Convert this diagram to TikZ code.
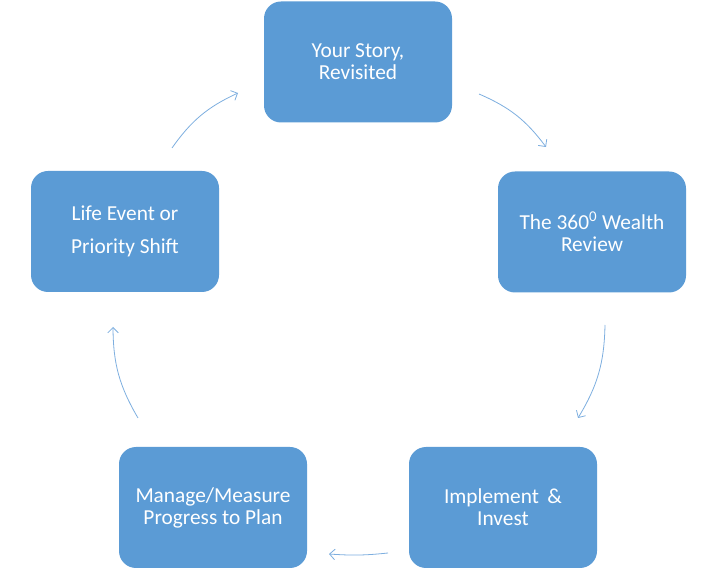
\documentclass[tikz,border=0pt]{standalone}
\usepackage{fontspec}
\setmainfont{Carlito}
\usepackage{xcolor}
\usetikzlibrary{positioning}
\usetikzlibrary{arrows.meta}
\definecolor{boxblue}{HTML}{5B9BD5}
\definecolor{arrowblue}{HTML}{7DAEDF}

\begin{document}
\begin{tikzpicture}[x = 0.75pt, y = 0.75pt,
		stagebox/.style = {rectangle, rounded corners = 12.75pt, fill = boxblue, text = white, minimum width = 141pt, minimum height = 90.75pt, align = center, font = \fontsize{16}{16.5}\selectfont},
		cyclearrow/.style = {draw = arrowblue, line width = 0.6pt, -{Straight Barb[length = 4pt, width = 8pt]}, bend left = 15}]
		\useasboundingbox (0, 0) rectangle (728, 578);

		\node [stagebox] (story) at (358, 516) {Your Story,\\Revisited};
		\node [stagebox] (review) at (592, 346) {The 360\textsuperscript{0} Wealth\\Review};
		\node [stagebox] (invest) at (503, 70.5) {Implement \,\&\\Invest};
		\node [stagebox] (measure) at (213, 70.5) {Manage/Measure\\Progress to Plan};
		\node [stagebox] (shift) at (125, 346.5) {Life Event or\\[8.25pt]Priority Shift};

		\coordinate (storyout) at (479, 484);
		\coordinate (reviewin) at (546, 431);
		\coordinate (reviewout) at (605, 253);
		\coordinate (investin) at (578, 160);
		\coordinate (investout) at (388, 25);
		\coordinate (measurein) at (329, 24);
		\coordinate (measureout) at (138, 160);
		\coordinate (shiftin) at (113, 251);
		\coordinate (shiftout) at (172, 430);
		\coordinate (storyin) at (238, 485);

		\draw [cyclearrow] (storyout) to (reviewin);
		\draw [cyclearrow] (reviewout) to (investin);
		\draw [cyclearrow, bend left = 5] (investout) to (measurein);
		\draw [cyclearrow] (measureout) to (shiftin);
		\draw [cyclearrow] (shiftout) to (storyin);
\end{tikzpicture}
\end{document}
